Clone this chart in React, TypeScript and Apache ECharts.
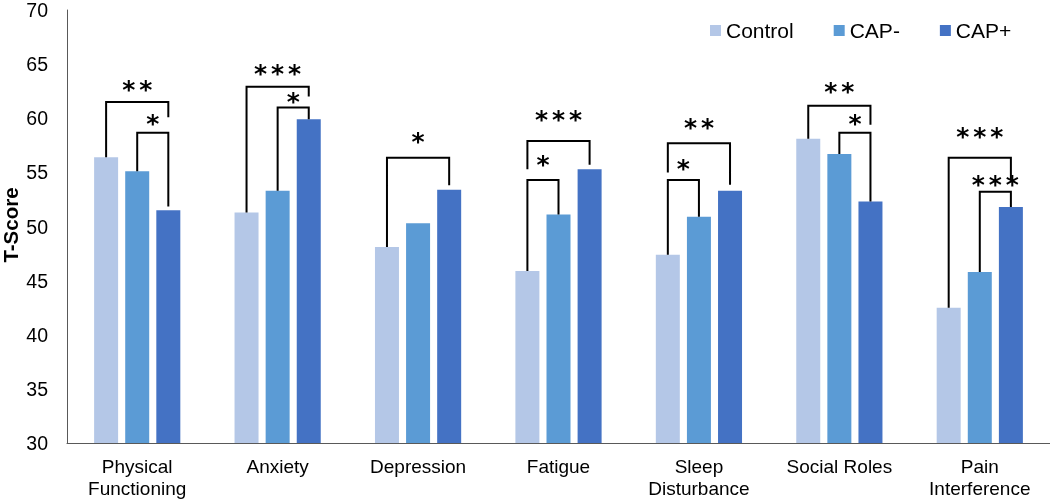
import React, { useEffect, useRef } from 'react';
import * as echarts from 'echarts';

const categories = ['Physical\nFunctioning', 'Anxiety', 'Depression', 'Fatigue', 'Sleep\nDisturbance', 'Social Roles', 'Pain\nInterference'];
const seriesNames = ['Control', 'CAP-', 'CAP+'];
const control = [56.4, 51.3, 48.1, 45.9, 47.4, 58.1, 42.5];
const capMinus = [55.1, 53.3, 50.3, 51.1, 50.9, 56.7, 45.8];
const capPlus = [51.5, 59.9, 53.4, 55.3, 53.3, 52.3, 51.8];
const yTicks = { min: 30, max: 70, interval: 5 };
const yTitle = 'T-Score';

// [category, fromGroup, toGroup, topValue, leftEnd (null = bar top), rightEnd (null = bar top), labelValue, stars]
const brackets: [number, number, number, number, number | null, number | null, number, string][] = [
  [0, 0, 2, 61.5, null, 60.1, 62.9, '**'],
  [0, 1, 2, 58.65, null, 51.85, 59.7, '*'],
  [1, 0, 2, 62.9, null, 62.0, 64.35, '***'],
  [1, 1, 2, 61.0, null, null, 61.8, '*'],
  [2, 0, 2, 56.35, null, 53.8, 58.05, '*'],
  [3, 0, 2, 57.9, 55.3, 55.7, 60.15, '***'],
  [3, 0, 1, 54.3, null, null, 55.95, '*'],
  [4, 0, 2, 57.7, 55.0, 53.85, 59.4, '**'],
  [4, 0, 1, 54.3, null, null, 55.6, '*'],
  [5, 0, 2, 61.15, null, 59.4, 62.7, '**'],
  [5, 1, 2, 58.65, null, null, 59.7, '*'],
  [6, 0, 2, 56.35, null, 54.35, 58.5, '***'],
  [6, 1, 2, 53.2, null, null, 54.1, '***'],
];

const colors = ['#b4c7e7', '#5b9bd5', '#4472c4'];
const FONT = 'Liberation Sans, Arial, sans-serif';
const STAR_FONT = 'DejaVu Sans, sans-serif';
const BAR_W = 24;
const BAR_STEP = 31.1;
const STAR_SIZE = 25;
const STAR_GAP = 17;
const STAR_SHIFT = 2.5;

export default function App() {
  const ref = useRef<HTMLDivElement>(null);
  useEffect(() => {
    document.body.style.margin = '0';
    const chart = echarts.init(ref.current!, null, { renderer: 'svg' });
    const groups = [control, capMinus, capPlus];
    chart.setOption({
      animation: false,
      textStyle: { fontFamily: FONT },
      grid: { left: 67, right: 0, top: 10, bottom: 57, containLabel: false, outerBoundsMode: 'none' },
      graphic: [
        {
          type: 'text',
          x: 10,
          y: 225,
          rotation: Math.PI / 2,
          style: { text: yTitle, fontSize: 20.5, fontWeight: 'bold', fill: '#000', align: 'center', verticalAlign: 'middle', fontFamily: FONT },
        },
      ],
      legend: {
        data: seriesNames,
        left: 705,
        top: 15,
        itemWidth: 11,
        itemHeight: 11,
        itemGap: 40,
        icon: 'rect',
        textStyle: { fontSize: 21, color: '#000', fontFamily: FONT },
      },
      xAxis: {
        type: 'category',
        data: categories,
        axisLine: { show: true, lineStyle: { color: '#595959', width: 1 } },
        axisTick: { show: false },
        axisLabel: { fontSize: 19, color: '#000', margin: 12, lineHeight: 22, interval: 0, fontFamily: FONT },
      },
      yAxis: {
        type: 'value',
        min: yTicks.min,
        max: yTicks.max,
        interval: yTicks.interval,
        axisLine: { show: true, lineStyle: { color: '#595959', width: 1 } },
        axisTick: { show: false },
        splitLine: { show: false },
        axisLabel: { fontSize: 19.5, color: '#000', margin: 19, fontFamily: FONT },
      },
      series: [
        ...seriesNames.map((name, i) => ({
          name,
          type: 'bar',
          data: groups[i],
          barWidth: BAR_W,
          barGap: '29.6%',
          itemStyle: { color: colors[i] },
        })),
        {
          type: 'custom',
          name: 'brackets',
          silent: true,
          clip: false,
          z: 5,
          encode: { x: 0, y: 1 },
          data: brackets.map((b, i) => [b[0], b[3], i]),
          renderItem: (params: any, api: any) => {
            const b = brackets[api.value(2)];
            const [cat, from, to, top, lEnd, rEnd, lab, stars] = b;
            const lVal = lEnd == null ? groups[from][cat] : lEnd;
            const rVal = rEnd == null ? groups[to][cat] : rEnd;
            const c = api.coord([cat, top]);
            const xl = c[0] + (from - 1) * BAR_STEP;
            const xr = c[0] + (to - 1) * BAR_STEP;
            const yTop = c[1];
            const yl = api.coord([cat, lVal])[1];
            const yr = api.coord([cat, rVal])[1];
            const yLab = api.coord([cat, lab])[1];
            const xc = (xl + xr) / 2;
            const n = stars.length;
            const starEls = stars.split('').map((s, k) => ({
              type: 'text',
              x: xc + (k - (n - 1) / 2) * STAR_GAP,
              y: yLab + STAR_SHIFT,
              style: { text: s, fontSize: STAR_SIZE, fontWeight: 'bold', fill: '#000', align: 'center', verticalAlign: 'middle', fontFamily: STAR_FONT },
            }));
            return {
              type: 'group',
              children: [
                {
                  type: 'polyline',
                  shape: { points: [[xl, yl], [xl, yTop], [xr, yTop], [xr, yr]] },
                  style: { stroke: '#000', lineWidth: 2, fill: 'none' },
                },
                ...starEls,
              ],
            };
          },
        },
      ],
    });
    return () => chart.dispose();
  }, []);
  return <div ref={ref} style={{ position: 'fixed', left: 0, top: 0, width: 1050, height: 500 }} />;
}
